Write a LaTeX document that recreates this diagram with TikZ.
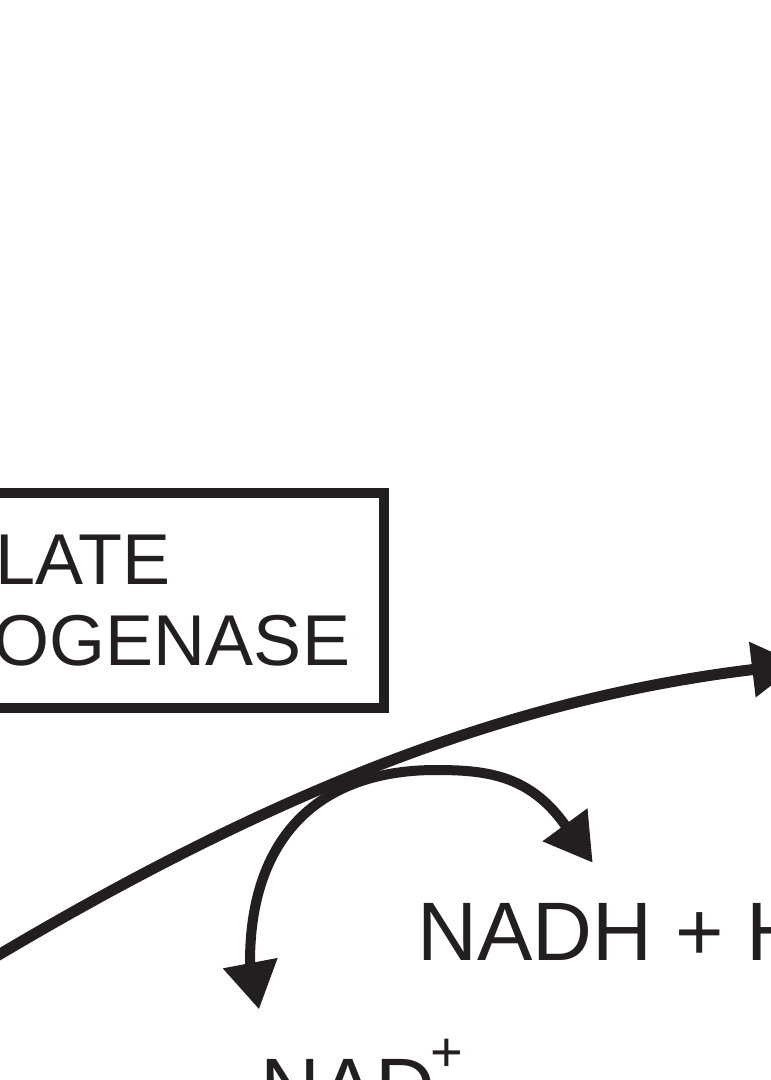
\documentclass[tikz,border=0pt]{standalone}
\usepackage{fontspec}
\setmainfont{Liberation Sans}
\usetikzlibrary{arrows.meta}
\definecolor{ink}{HTML}{231F20}
\begin{document}
\begin{tikzpicture}[x=1pt,y=-1pt,
  flow/.style={draw=ink, line width=11pt, -{Triangle[length=47pt,width=53pt]}},
  cof/.style={draw=ink, line width=10pt, -{Triangle[length=47pt,width=53pt]}},
  enzymebox/.style={draw=ink, line width=10pt, inner sep=0pt, align=center, text=ink,
    font=\fontsize{72}{81.7}\selectfont},
  label/.style={anchor=base west, inner sep=0pt, text=ink, font=\fontsize{83}{83}\selectfont}]
\useasboundingbox (0,0) rectangle (771,1080);
\clip (0,0) rectangle (771,1080);
\node[enzymebox, minimum width=724pt, minimum height=215pt] (enzyme) at (22,600.5) {\kern14pt MALATE\\DEHYDROGENASE\kern4pt};
\node[label] (nadh) at (417,960.7) {NADH + H\kern-5pt\raisebox{44.5pt}{\fontsize{56}{56}\selectfont +}};
\node[label] (nad) at (260.4,1116) {NAD\kern-5pt\raisebox{44.5pt}{\fontsize{56}{56}\selectfont +}};
\coordinate (src) at (-20,966);
\coordinate (dst) at (799,664);
\draw[flow] (src) .. controls (260,798) and (499,700) .. (dst);
\coordinate (top) at (436,770);
\coordinate (nadtip) at (259,1009.3);
\coordinate (nadhtip) at (592.7,862.7);
\draw[cof] (top) .. controls (316,770) and (250,840) .. (250,962) -- (nadtip);
\draw[cof] (top) .. controls (486,770) and (528.6,774.9) .. (564,823.5) -- (nadhtip);
\end{tikzpicture}
\end{document}
